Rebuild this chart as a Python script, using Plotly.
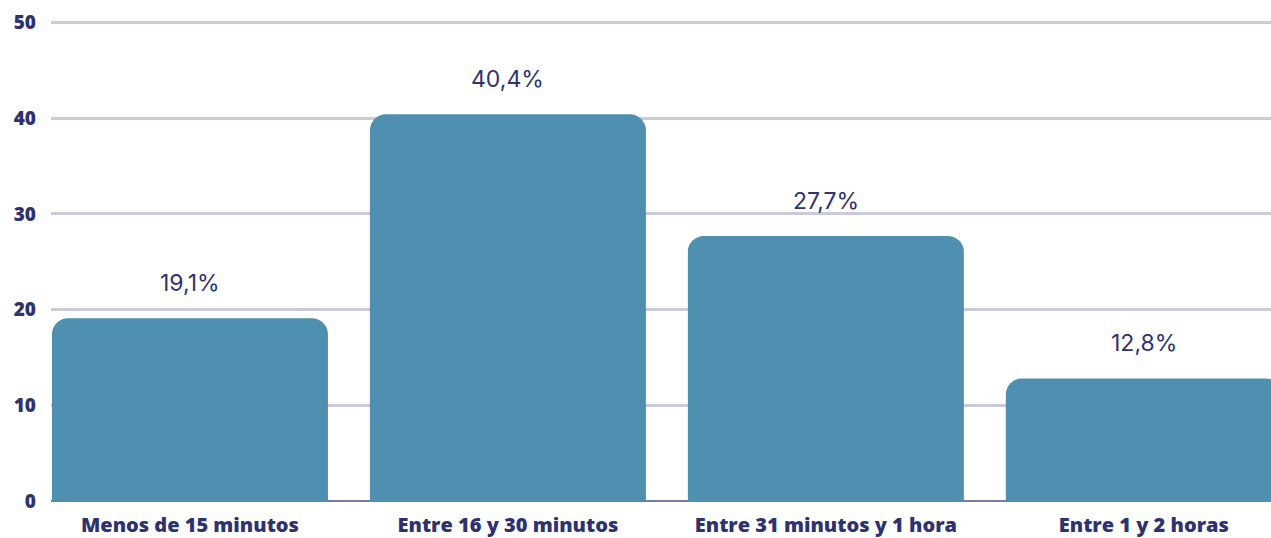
import plotly.graph_objects as go

categories = ["Menos de 15 minutos", "Entre 16 y 30 minutos", "Entre 31 minutos y 1 hora", "Entre 1 y 2 horas"]
values = [19.1, 40.4, 27.7, 12.8]
labels = ["19,1%", "40,4%", "27,7%", "12,8%"]
y_ticks = [0, 10, 20, 30, 40, 50]

navy = "#2e3370"
bar_color = "#4f8faf"

fig = go.Figure()
fig.add_trace(go.Bar(
    x=categories, y=values, marker=dict(color=bar_color, line=dict(width=0)),
    width=0.868, hoverinfo="skip"
))

for c, v, t in zip(categories, values, labels):
    fig.add_annotation(x=c, y=v, text=t, showarrow=False, yshift=35,
                       font=dict(family="Inter", size=23, color=navy, weight=400))

fig.update_layout(
    width=1271, height=538,
    margin=dict(l=51, r=0, t=21, b=37),
    paper_bgcolor="white", plot_bgcolor="white",
    barcornerradius=16,
    showlegend=False,
    xaxis=dict(range=[-0.437, 3.40], showgrid=False, showline=False, ticks="",
               tickfont=dict(family="Open Sans", size=20, color=navy, weight=800),
               ticklabelstandoff=10),
    yaxis=dict(range=[0, 50.15], tickvals=y_ticks, showgrid=True, gridcolor="#cacad8", gridwidth=2.5,
               zeroline=True, zerolinecolor="#7b79a6", zerolinewidth=2, showline=False,
               tickfont=dict(family="Open Sans", size=19, color=navy, weight=800),
               ticklabelstandoff=14),
)

fig.write_html("out.html", config={"displayModeBar": False},
               post_script="document.body.style.margin='0';")
